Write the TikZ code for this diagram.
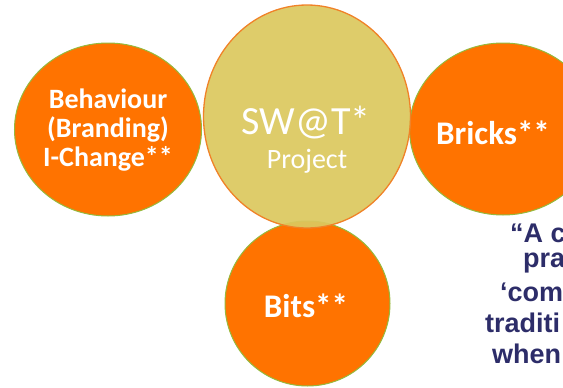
\documentclass[tikz,border=0pt]{standalone}
\usepackage{fontspec}
\setmainfont{Carlito}
\newfontfamily\quotefont{Liberation Sans}
\definecolor{orng}{RGB}{255,115,0}
\definecolor{rimgreen}{RGB}{150,185,60}
\definecolor{mustard}{RGB}{220,200,95}
\definecolor{rimorange}{RGB}{240,130,40}
\definecolor{navy}{RGB}{45,45,105}
\tikzset{
  orangeball/.style={ellipse, fill=orng, draw=rimgreen, line width=1pt, inner sep=0pt},
  centreball/.style={ellipse, fill=mustard, fill opacity=0.93, draw=rimorange, line width=1.3pt, inner sep=0pt},
  balltext/.style={text=white, font=\bfseries\fontsize{33}{36}\selectfont, inner sep=0pt},
  quoteline/.style={anchor=west, text=navy, font=\quotefont\bfseries\fontsize{27}{30}\selectfont, inner sep=0pt}
}
\usetikzlibrary{shapes.geometric}
\begin{document}
\begin{tikzpicture}[x=1pt,y=-1pt]
\useasboundingbox (0,0) rectangle (563,388);
\clip (0,0) rectangle (563,388);
\node[orangeball, minimum width=187pt, minimum height=173pt] (left) at (108,129.5) {};
\node[orangeball, minimum width=187pt, minimum height=172pt] (right) at (503,129) {};
\node[orangeball, minimum width=165pt, minimum height=165pt] (bits) at (307.5,303.5) {};
\node[centreball, minimum width=207pt, minimum height=223pt] (centre) at (307,116.5) {};
% labels
\node[balltext, font=\bfseries\fontsize{28}{29}\selectfont, align=center] (lefttext) at (108,130) {Behaviour\\(Branding)\\I-Change**};
\node[balltext] (righttext) at (493,133) {Bricks**};
\node[balltext] (bitstext) at (306,306) {Bits**};
\node[text=white, font=\fontsize{40}{44}\selectfont, inner sep=0pt] (swat) at (306,123) {SW@T*};
\node[text=white, font=\fontsize{28}{32}\selectfont, inner sep=0pt] (proj) at (307,161) {Project};
% quote fragments (clipped at the right edge)
\node[quoteline] (q1) at (510,233) {“A c};
\node[quoteline] (q2) at (523,263) {pra};
\node[quoteline] (q3) at (500,292) {‘com};
\node[quoteline] (q4) at (485,323) {traditi};
\node[quoteline] (q5) at (492,354) {when};
\end{tikzpicture}
\end{document}
